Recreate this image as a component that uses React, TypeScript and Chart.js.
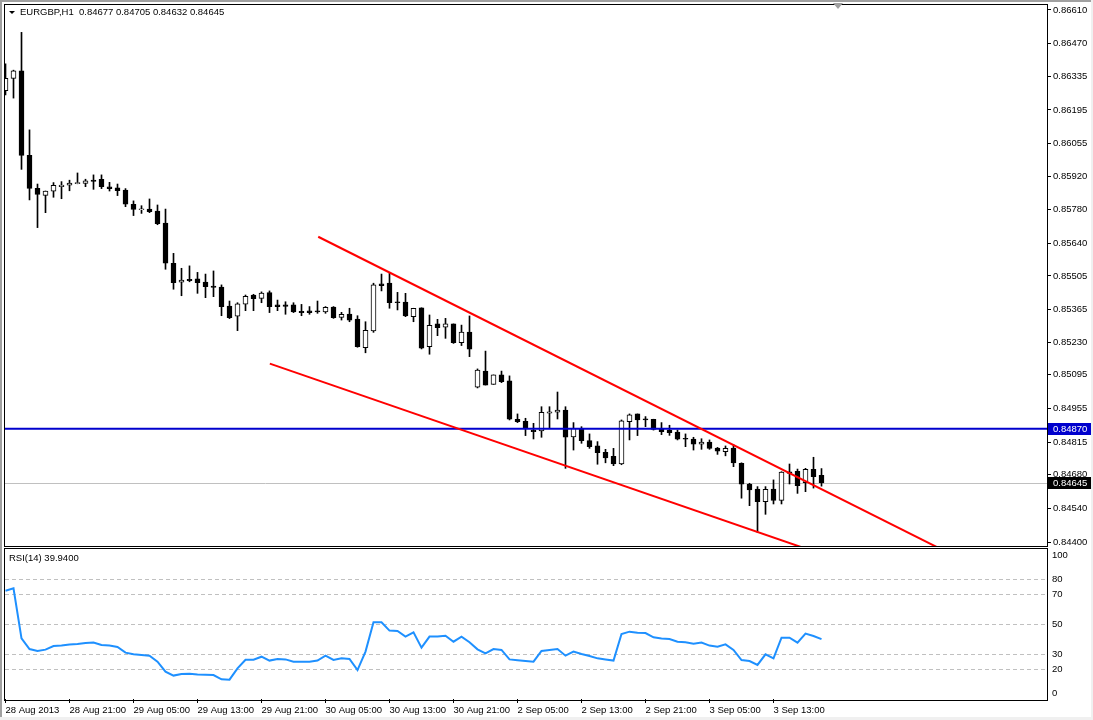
import React, { useEffect, useRef } from 'react';
import { Chart, registerables } from 'chart.js';

Chart.register(...registerables);

const TITLE = 'EURGBP,H1  0.84677 0.84705 0.84632 0.84645';
const RSI_TITLE = 'RSI(14) 39.9400';

const OPEN = [
  0.86275, 0.86326, 0.86357, 0.86006, 0.85869, 0.8584, 0.85857, 0.85876, 0.85882, 0.85891,
  0.8589, 0.85903, 0.85907, 0.85875, 0.85871, 0.85862, 0.85803, 0.85782, 0.85783, 0.85775,
  0.85725, 0.85558, 0.85479, 0.85491, 0.85493, 0.8548, 0.85463, 0.85459, 0.8538, 0.85338,
  0.85388, 0.85426, 0.85412, 0.85436, 0.85385, 0.85385, 0.85385, 0.85358, 0.8536, 0.8536,
  0.85356, 0.85376, 0.85333, 0.85347, 0.85326, 0.85207, 0.85277, 0.85472, 0.85476, 0.85398,
  0.85397, 0.85336, 0.85373, 0.85211, 0.85306, 0.85292, 0.85306, 0.85228, 0.85272, 0.85043,
  0.8511, 0.85055, 0.85094, 0.85069, 0.8491, 0.84901, 0.84865, 0.84861, 0.84935, 0.84939,
  0.84948, 0.84837, 0.84872, 0.84821, 0.84799, 0.84773, 0.84756, 0.84724, 0.849, 0.84932,
  0.84912, 0.8491, 0.84872, 0.84865, 0.84857, 0.84831, 0.84828, 0.84806, 0.84815, 0.8479,
  0.84775, 0.8479, 0.84727, 0.8464, 0.8462, 0.84568, 0.8462, 0.84573, 0.84692, 0.84694,
  0.84646, 0.84702, 0.84677,
];
const HIGH = [
  0.86386, 0.8636, 0.86517, 0.86112, 0.85887, 0.85858, 0.85893, 0.85897, 0.85903, 0.85933,
  0.85907, 0.85925, 0.85925, 0.85894, 0.85887, 0.85868, 0.85817, 0.85797, 0.85825, 0.858,
  0.85783, 0.85599, 0.85537, 0.85547, 0.8552, 0.85513, 0.85526, 0.85468, 0.85401, 0.85394,
  0.85426, 0.85429, 0.85439, 0.85443, 0.85405, 0.85398, 0.85394, 0.85387, 0.85378, 0.85401,
  0.85378, 0.85378, 0.85354, 0.85371, 0.8534, 0.85315, 0.85475, 0.85513, 0.85516, 0.85437,
  0.85433, 0.85371, 0.85373, 0.85343, 0.85325, 0.85329, 0.85306, 0.85301, 0.85339, 0.85119,
  0.85193, 0.85094, 0.8511, 0.8509, 0.84932, 0.84914, 0.84893, 0.84962, 0.84962, 0.85023,
  0.84962, 0.84896, 0.84879, 0.84849, 0.84817, 0.84785, 0.84789, 0.84907, 0.84932, 0.84932,
  0.84921, 0.8491, 0.84896, 0.84885, 0.84865, 0.84849, 0.84835, 0.84829, 0.84824, 0.84793,
  0.84799, 0.84804, 0.84729, 0.84644, 0.8463, 0.8463, 0.84658, 0.84692, 0.84724, 0.84703,
  0.84706, 0.84752, 0.84705,
];
const LOW = [
  0.86257, 0.86244, 0.85948, 0.85821, 0.85706, 0.85768, 0.85832, 0.85826, 0.85859, 0.85888,
  0.85876, 0.85865, 0.85868, 0.85858, 0.85839, 0.85793, 0.85756, 0.85765, 0.85768, 0.85718,
  0.85533, 0.8545, 0.85423, 0.85481, 0.85433, 0.85415, 0.85419, 0.8534, 0.85328, 0.85278,
  0.85361, 0.85361, 0.85394, 0.85353, 0.85361, 0.85346, 0.85353, 0.8534, 0.85346, 0.8535,
  0.8535, 0.85329, 0.85322, 0.85315, 0.85209, 0.85186, 0.85271, 0.85443, 0.85371, 0.85364,
  0.85336, 0.85315, 0.85202, 0.8518, 0.85257, 0.85246, 0.85225, 0.85216, 0.8517, 0.8504,
  0.85052, 0.85055, 0.85062, 0.84907, 0.84896, 0.84842, 0.84828, 0.84835, 0.84875, 0.84911,
  0.84706, 0.84782, 0.8481, 0.84789, 0.84723, 0.84729, 0.84717, 0.84721, 0.84824, 0.84842,
  0.84879, 0.84865, 0.84846, 0.84843, 0.84824, 0.84796, 0.84782, 0.84785, 0.84785, 0.84764,
  0.84758, 0.84713, 0.84582, 0.84551, 0.8444, 0.84515, 0.84558, 0.84558, 0.84641, 0.84602,
  0.84609, 0.84624, 0.84632,
];
const CLOSE = [
  0.86326, 0.86357, 0.86006, 0.85869, 0.85844, 0.85858, 0.85882, 0.85883, 0.85891, 0.85891,
  0.859, 0.85898, 0.85876, 0.85868, 0.85859, 0.85803, 0.85782, 0.85782, 0.85772, 0.85722,
  0.85558, 0.85477, 0.85488, 0.85486, 0.85477, 0.85461, 0.85458, 0.85378, 0.85332, 0.85389,
  0.85421, 0.85411, 0.85434, 0.85378, 0.85378, 0.85379, 0.85356, 0.85353, 0.85353, 0.85356,
  0.85375, 0.85332, 0.85346, 0.85322, 0.85211, 0.85279, 0.85468, 0.85465, 0.85394, 0.85394,
  0.85339, 0.85371, 0.85205, 0.853, 0.8529, 0.85306, 0.85228, 0.85272, 0.85201, 0.85114,
  0.85052, 0.85094, 0.85066, 0.8491, 0.849, 0.84875, 0.84858, 0.84939, 0.84941, 0.84948,
  0.84835, 0.84872, 0.84821, 0.84796, 0.84771, 0.84749, 0.84724, 0.84903, 0.84928, 0.84907,
  0.84907, 0.84868, 0.84858, 0.84854, 0.84827, 0.84827, 0.84806, 0.84815, 0.84789, 0.84777,
  0.84789, 0.84729, 0.8464, 0.84616, 0.84568, 0.84619, 0.84573, 0.8469, 0.84685, 0.84634,
  0.84702, 0.84671, 0.84645,
];
const RSI = [
  72.2, 73.8, 40.4, 33.3, 32.0, 32.9, 35.3, 35.6, 36.4, 36.7,
  37.3, 37.6, 36.0, 35.6, 34.7, 30.9, 29.8, 29.3, 28.9, 24.9,
  18.2, 15.6, 16.7, 16.9, 16.4, 16.2, 16.0, 13.1, 12.9, 20.4,
  26.2, 26.2, 28.2, 25.6, 26.7, 26.4, 24.9, 24.9, 24.9, 25.6,
  28.9, 26.0, 27.1, 26.7, 19.3, 31.6, 51.1, 51.1, 45.6, 45.3,
  41.6, 44.4, 34.2, 41.6, 41.6, 42.2, 38.2, 41.6, 37.8, 33.1,
  30.4, 33.3, 32.7, 26.4, 25.8, 25.3, 24.9, 32.0, 32.7, 33.3,
  28.9, 31.6, 30.0, 28.7, 27.1, 26.4, 25.6, 43.3, 44.9, 44.2,
  44.0, 41.1, 40.4, 40.0, 38.2, 37.8, 36.9, 37.6, 35.6, 34.9,
  36.4, 32.7, 26.0, 25.3, 22.7, 29.8, 27.1, 40.9, 40.9, 37.6,
  43.6, 42.0, 39.94,
];

const TIME_LABELS = [
  '28 Aug 2013', '28 Aug 21:00', '29 Aug 05:00', '29 Aug 13:00', '29 Aug 21:00',
  '30 Aug 05:00', '30 Aug 13:00', '30 Aug 21:00', '2 Sep 05:00', '2 Sep 13:00',
  '2 Sep 21:00', '3 Sep 05:00', '3 Sep 13:00',
];
const TIME_LABEL_STEP = 8;

const PRICE_TICKS = [
  0.8661, 0.8647, 0.86335, 0.86195, 0.86055, 0.8592, 0.8578, 0.8564, 0.85505,
  0.85365, 0.8523, 0.85095, 0.84955, 0.84815, 0.8468, 0.8454, 0.844,
];
const PRICE_MIN = 0.843834;
const PRICE_MAX = 0.866307;

const RSI_LEVELS = [80, 70, 50, 30, 20];
const RSI_TICKS = [100, 80, 70, 50, 30, 20, 0];

const H_LINE_PRICE = 0.8487;
const BID_PRICE = 0.84645;

const UPPER_TREND_X = [39.09, 125];
const UPPER_TREND_Y = [0.85668, 0.84236];
const LOWER_TREND_X = [33.04, 125];
const LOWER_TREND_Y = [0.85141, 0.84086];

const X_MIN = -0.0625;
const X_MAX = 130.1875;

const FONT = '"Liberation Sans", Arial, sans-serif';
const FONT_SIZE = 9.5;
const MIN_BODY = 0.00004;

const frameStroke = (ctx: CanvasRenderingContext2D, a: any, extraBottom: number) => {
  ctx.save();
  ctx.strokeStyle = '#000';
  ctx.lineWidth = 1;
  ctx.strokeRect(a.left - 0.5, a.top - 0.5, a.right - a.left + 1, a.bottom - a.top + 1 + extraBottom);
  ctx.restore();
};

const mainPlugin = {
  id: 'mainDecor',
  beforeDatasetsDraw(chart: any) {
    const ctx = chart.ctx as CanvasRenderingContext2D;
    const a = chart.chartArea;
    const y = Math.round(chart.scales.y.getPixelForValue(BID_PRICE)) + 0.5;
    ctx.save();
    ctx.strokeStyle = '#C0C0C0';
    ctx.lineWidth = 1;
    ctx.beginPath();
    ctx.moveTo(a.left, y);
    ctx.lineTo(a.right, y);
    ctx.stroke();
    ctx.restore();
  },
  afterDraw(chart: any) {
    const ctx = chart.ctx as CanvasRenderingContext2D;
    const a = chart.chartArea;
    frameStroke(ctx, a, 0);
    ctx.save();
    ctx.fillStyle = '#000';
    ctx.beginPath();
    ctx.moveTo(9, 11);
    ctx.lineTo(15, 11);
    ctx.lineTo(12, 14);
    ctx.closePath();
    ctx.fill();
    ctx.font = `${FONT_SIZE}px ${FONT}`;
    ctx.textBaseline = 'middle';
    ctx.textAlign = 'left';
    ctx.fillText(TITLE, 20, 12.5);
    ctx.fillStyle = '#A0A0A0';
    ctx.beginPath();
    ctx.moveTo(833, 3);
    ctx.lineTo(843, 3);
    ctx.lineTo(838, 9);
    ctx.closePath();
    ctx.fill();
    const tag = (price: number, bg: string) => {
      const py = Math.round(chart.scales.y.getPixelForValue(price));
      ctx.fillStyle = bg;
      ctx.fillRect(a.right + 1, py - 6, 43, 12);
      ctx.fillStyle = '#fff';
      ctx.fillText(price.toFixed(5), a.right + 6, py + 0.5);
    };
    tag(H_LINE_PRICE, '#0000CD');
    tag(BID_PRICE, '#000000');
    ctx.restore();
  },
};

const rsiPlugin = {
  id: 'rsiDecor',
  beforeDatasetsDraw(chart: any) {
    const ctx = chart.ctx as CanvasRenderingContext2D;
    const a = chart.chartArea;
    ctx.save();
    ctx.strokeStyle = '#C0C0C0';
    ctx.lineWidth = 1;
    ctx.setLineDash([4, 3]);
    RSI_LEVELS.forEach((lv) => {
      const y = Math.round(chart.scales.y.getPixelForValue(lv)) + 0.5;
      ctx.beginPath();
      ctx.moveTo(a.left, y);
      ctx.lineTo(a.right, y);
      ctx.stroke();
    });
    ctx.restore();
  },
  afterDraw(chart: any) {
    const ctx = chart.ctx as CanvasRenderingContext2D;
    const a = chart.chartArea;
    frameStroke(ctx, a, 1);
    ctx.save();
    ctx.fillStyle = '#000';
    ctx.font = `${FONT_SIZE}px ${FONT}`;
    ctx.textBaseline = 'middle';
    ctx.textAlign = 'left';
    ctx.fillText(RSI_TITLE, 9, 10);
    RSI_TICKS.forEach((t) => {
      let y = chart.scales.y.getPixelForValue(t);
      if (t === 100) y += 6;
      if (t === 0) y -= 6;
      ctx.fillText(String(t), a.right + 5, y + 0.5);
    });
    ctx.restore();
  },
};

export default function App() {
  const mainRef = useRef<HTMLCanvasElement>(null);
  const rsiRef = useRef<HTMLCanvasElement>(null);

  useEffect(() => {
    document.body.style.margin = '0';
    const bodyData = OPEN.map((o, i) => {
      const c = CLOSE[i];
      let lo = Math.min(o, c);
      let hi = Math.max(o, c);
      if (hi - lo < MIN_BODY) {
        const m = (hi + lo) / 2;
        lo = m - MIN_BODY / 2;
        hi = m + MIN_BODY / 2;
      }
      return { x: i, y: [lo, hi] };
    });
    const wickData = OPEN.map((_, i) => ({ x: i, y: [LOW[i], HIGH[i]] }));
    const bodyColors = OPEN.map((o, i) => (CLOSE[i] >= o ? '#FFFFFF' : '#000000'));

    const main = new Chart(mainRef.current as HTMLCanvasElement, {
      type: 'bar',
      data: {
        datasets: [
          {
            type: 'line',
            data: [{ x: UPPER_TREND_X[0], y: UPPER_TREND_Y[0] }, { x: UPPER_TREND_X[1], y: UPPER_TREND_Y[1] }],
            borderColor: '#FF0000',
            borderWidth: 2,
            pointRadius: 0,
            fill: false,
            order: 0,
          } as any,
          {
            type: 'line',
            data: [{ x: LOWER_TREND_X[0], y: LOWER_TREND_Y[0] }, { x: LOWER_TREND_X[1], y: LOWER_TREND_Y[1] }],
            borderColor: '#FF0000',
            borderWidth: 2,
            pointRadius: 0,
            fill: false,
            order: 0,
          } as any,
          {
            type: 'line',
            data: [{ x: X_MIN, y: H_LINE_PRICE }, { x: X_MAX, y: H_LINE_PRICE }],
            borderColor: '#0000CD',
            borderWidth: 2,
            pointRadius: 0,
            fill: false,
            order: 0,
          } as any,
          {
            type: 'bar',
            data: bodyData as any,
            backgroundColor: bodyColors,
            borderColor: '#000000',
            borderWidth: 1,
            borderSkipped: false,
            barThickness: 5,
            grouped: false,
            order: 1,
          } as any,
          {
            type: 'bar',
            data: wickData as any,
            backgroundColor: '#000000',
            borderWidth: 0,
            barThickness: 1,
            grouped: false,
            order: 2,
          } as any,
        ],
      },
      options: {
        responsive: false,
        animation: false,
        events: [],
        layout: { padding: { left: 5, right: 0, top: 5, bottom: 2 } },
        plugins: { legend: { display: false }, tooltip: { enabled: false } },
        scales: {
          x: { type: 'linear', display: false, min: X_MIN, max: X_MAX, offset: false },
          y: {
            type: 'linear',
            position: 'right',
            min: PRICE_MIN,
            max: PRICE_MAX,
            afterBuildTicks: (axis: any) => {
              axis.ticks = PRICE_TICKS.map((v) => ({ value: v }));
            },
            afterFit: (axis: any) => {
              axis.width = 46;
              axis.paddingTop = 0;
              axis.paddingBottom = 0;
            },
            grid: { drawOnChartArea: false, drawTicks: true, tickLength: 4, color: '#000' },
            border: { display: false },
            ticks: {
              color: '#000',
              padding: 2,
              font: { family: FONT, size: FONT_SIZE },
              callback: (v: any) => Number(v).toFixed(5),
            },
          },
        },
      } as any,
      plugins: [mainPlugin as any],
    });

    const rsi = new Chart(rsiRef.current as HTMLCanvasElement, {
      type: 'line',
      data: {
        datasets: [
          {
            data: RSI.map((v, i) => ({ x: i, y: v })),
            borderColor: '#1E90FF',
            borderWidth: 2,
            pointRadius: 0,
            tension: 0,
            fill: false,
          },
        ],
      },
      options: {
        responsive: false,
        animation: false,
        events: [],
        layout: { padding: { left: 5, right: 46, top: 1, bottom: 0 } },
        plugins: { legend: { display: false }, tooltip: { enabled: false } },
        scales: {
          x: {
            type: 'linear',
            min: X_MIN,
            max: X_MAX,
            offset: false,
            afterBuildTicks: (axis: any) => {
              axis.ticks = TIME_LABELS.map((_, k) => ({ value: k * TIME_LABEL_STEP }));
            },
            afterFit: (axis: any) => {
              axis.height = 21;
              axis.paddingLeft = 0;
              axis.paddingRight = 0;
            },
            grid: { drawOnChartArea: false, drawTicks: true, tickLength: 4, color: '#000' },
            border: { display: false },
            ticks: {
              color: '#000',
              padding: 2,
              align: 'start',
              autoSkip: false,
              maxRotation: 0,
              font: { family: FONT, size: FONT_SIZE },
              callback: (v: any) => TIME_LABELS[Math.round(Number(v) / TIME_LABEL_STEP)] ?? '',
            },
          },
          y: { type: 'linear', display: false, min: 0, max: 100 },
        },
      } as any,
      plugins: [rsiPlugin as any],
    });

    return () => {
      main.destroy();
      rsi.destroy();
    };
  }, []);

  return (
    <div style={{ position: 'relative', width: 1093, height: 720, background: '#fff', overflow: 'hidden' }}>
      <canvas ref={mainRef} width={1093} height={548} style={{ position: 'absolute', left: 0, top: 0 }} />
      <canvas ref={rsiRef} width={1093} height={172} style={{ position: 'absolute', left: 0, top: 548 }} />
      <div style={{ position: 'absolute', left: 0, top: 0, width: 1093, height: 2, background: '#A0A0A0' }} />
      <div style={{ position: 'absolute', left: 0, top: 0, width: 2, height: 720, background: '#A0A0A0' }} />
      <div style={{ position: 'absolute', left: 0, top: 717, width: 1093, height: 3, background: '#F0F0F0' }} />
      <div style={{ position: 'absolute', left: 1091, top: 0, width: 2, height: 720, background: '#F0F0F0' }} />
    </div>
  );
}
